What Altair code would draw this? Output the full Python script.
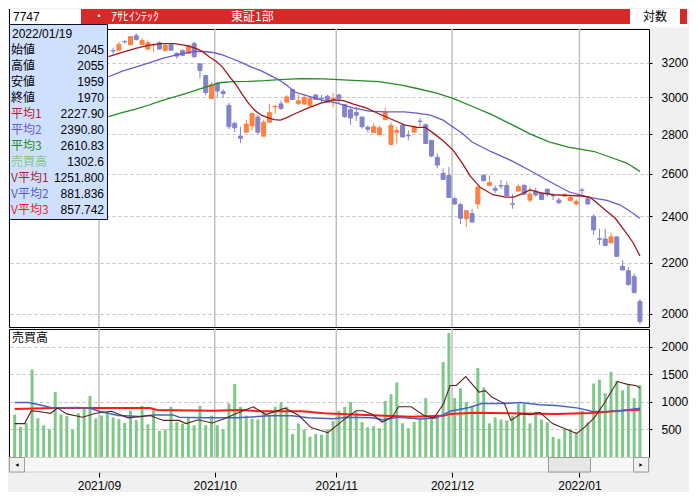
import altair as alt
import pandas as pd
import numpy as np

# ---------------- data ----------------
FIRST = 17  # first candle index visible (earlier ones are hidden behind the info box)
opens = [3275, 3277, 3331, 3310, 3367, 3313, 3284, 3309, 3323, 3274,
         3310, 3257, 3274, 3257, 3318, 3194, 3125, 2993, 3080, 3032,
         2955, 2857, 2789, 2810, 2843, 2891, 2789, 2863, 2947, 2963,
         2973, 3043, 2966, 2963, 2955, 3013, 2995, 3006, 2981, 3013,
         2959, 2931, 2915, 2891, 2836, 2808, 2798, 2877, 2746, 2810,
         2846, 2793, 2810, 2869, 2849, 2767, 2681, 2601, 2591, 2480,
         2453, 2389, 2412, 2456, 2591, 2543, 2529, 2542, 2543, 2457,
         2516, 2543, 2474, 2516, 2507, 2525, 2496, 2474, 2492, 2471,
         2456, 2521, 2480, 2400, 2301, 2300, 2283, 2309, 2185, 2167,
         2143, 2045]
highs = [3292, 3330, 3340, 3362, 3383, 3353, 3337, 3318, 3332, 3318,
         3312, 3265, 3284, 3310, 3331, 3196, 3129, 3088, 3088, 3046,
         2970, 2866, 2839, 2877, 2916, 2901, 2877, 2963, 2959, 2981,
         3013, 3045, 3017, 3013, 3002, 3017, 3013, 3013, 3024, 3020,
         2960, 2942, 2949, 2892, 2846, 2857, 2846, 2944, 2863, 2839,
         2853, 2820, 2849, 2886, 2857, 2768, 2701, 2626, 2633, 2490,
         2461, 2427, 2434, 2543, 2598, 2591, 2543, 2569, 2561, 2502,
         2548, 2548, 2535, 2532, 2513, 2529, 2502, 2483, 2502, 2498,
         2477, 2532, 2492, 2409, 2345, 2345, 2326, 2310, 2210, 2182,
         2154, 2055]
lows = [3252, 3277, 3317, 3310, 3337, 3309, 3277, 3265, 3280, 3274,
        3277, 3225, 3241, 3257, 3229, 3109, 3011, 2993, 2998, 2998,
        2826, 2810, 2754, 2810, 2818, 2801, 2789, 2863, 2908, 2931,
        2973, 2988, 2955, 2959, 2949, 2988, 2970, 2973, 2943, 2966,
        2886, 2849, 2870, 2828, 2808, 2808, 2798, 2877, 2741, 2751,
        2785, 2767, 2810, 2843, 2747, 2681, 2626, 2569, 2483, 2453,
        2365, 2352, 2374, 2434, 2561, 2538, 2508, 2525, 2495, 2434,
        2516, 2498, 2465, 2490, 2474, 2490, 2474, 2456, 2492, 2471,
        2450, 2492, 2456, 2317, 2275, 2272, 2283, 2226, 2170, 2106,
        2077, 1959]
closes = [3272, 3313, 3329, 3362, 3343, 3337, 3323, 3311, 3284, 3306,
          3277, 3241, 3246, 3306, 3237, 3155, 3027, 3072, 3036, 3021,
          2839, 2833, 2778, 2853, 2910, 2810, 2863, 2915, 2950, 2938,
          3002, 2988, 2980, 2998, 2995, 2988, 2992, 2973, 2995, 2993,
          2893, 2886, 2901, 2839, 2826, 2839, 2833, 2916, 2846, 2820,
          2785, 2791, 2839, 2867, 2751, 2687, 2642, 2572, 2486, 2456,
          2391, 2425, 2374, 2535, 2566, 2557, 2520, 2540, 2495, 2455,
          2538, 2502, 2502, 2498, 2477, 2502, 2494, 2462, 2502, 2486,
          2468, 2519, 2456, 2340, 2299, 2272, 2309, 2226, 2170, 2112,
          2080, 1970]

volumes = [769, 546, 616, 1585, 704, 575, 505, 1180, 769, 740,
           499, 792, 886, 1104, 699, 751, 810, 716, 687, 616,
           839, 669, 927, 593, 869, 475, 499, 910, 634, 605,
           722, 575, 927, 575, 751, 575, 505, 969, 1321, 910,
           751, 693, 681, 810, 751, 910, 992, 910, 417, 605,
           499, 370, 417, 405, 499, 652, 839, 910, 998, 810,
           634, 540, 558, 522, 1016, 1139, 1350, 610, 522, 634,
           687, 1068, 687, 740, 1720, 2248, 1068, 1244, 998, 910,
           1614, 1262, 610, 716, 681, 663, 751, 963, 963, 610,
           822, 681, 628, 364, 329, 505, 505, 434, 839, 628,
           1332, 1403, 1156, 1544, 1385, 1209, 1315, 1068, 1302.6]

month_labels = ["2021/09", "2021/10", "2021/11", "2021/12", "2022/01"]
month_start = [15, 35, 56, 76, 98]

ma1_i = [16.2, 18.7, 20.9, 23.2, 25.4, 27.6, 29.8, 31.5, 32.6, 33.7, 34.8, 35.9, 37.0, 38.2,
         39.3, 40.4, 41.5, 42.6, 43.7, 44.8, 45.9, 47.0, 48.4, 50.7, 52.9, 55.1, 56.8, 58.4,
         60.7, 62.9, 65.1, 67.3, 69.5, 70.9, 72.3, 74.0, 75.7, 77.3, 78.7, 80.4, 82.6, 84.8,
         86.2, 87.6, 89.0, 90.9, 93.2, 95.4, 98.0, 99.3, 100.4, 102.0, 103.7, 105.4, 106.8, 108.0]
ma1_v = [3238, 3265, 3289, 3309, 3318, 3318, 3305, 3285, 3265, 3234, 3210, 3175, 3123, 3073,
         3017, 2966, 2927, 2901, 2888, 2877, 2874, 2888, 2909, 2941, 2968, 2986, 2981, 2963,
         2941, 2909, 2879, 2849, 2836, 2836, 2805, 2765, 2718, 2652, 2588, 2534, 2499, 2488,
         2488, 2503, 2522, 2508, 2499, 2496, 2493, 2488, 2465, 2428, 2392, 2334, 2285, 2227.90]
ma2_i = [16.2, 18.7, 20.9, 23.2, 25.4, 27.6, 29.3, 30.9, 32.6, 34.3, 35.9, 37.6, 39.3, 40.9,
         42.6, 44.3, 45.9, 47.0, 48.4, 50.7, 53.4, 55.7, 58.4, 61.2, 64.0, 67.3, 69.5, 71.8,
         74.0, 75.7, 77.3, 79.0, 82.3, 85.7, 89.0, 92.3, 95.7, 99.0, 102.3, 104.6, 106.8, 108.0]
ma2_v = [3118, 3152, 3175, 3200, 3225, 3245, 3259, 3269, 3269, 3263, 3249, 3225, 3200, 3175,
         3152, 3123, 3095, 3068, 3030, 3006, 2981, 2968, 2941, 2923, 2919, 2919, 2912, 2901,
         2874, 2837, 2804, 2759, 2709, 2665, 2615, 2563, 2513, 2488, 2473, 2451, 2414, 2390.80]
ma3_i = [16.2, 18.7, 20.9, 23.2, 25.4, 27.6, 29.8, 32.0, 33.7, 35.4, 37.6, 40.4, 43.2, 45.7,
         49.5, 53.4, 58.4, 62.9, 66.8, 69.5, 72.9, 75.7, 79.0, 82.3, 85.7, 89.0, 92.3, 95.6,
         97.9, 100.1, 103.4, 105.7, 108.0]
ma3_v = [2893, 2916, 2934, 2957, 2981, 3002, 3024, 3048, 3065, 3083, 3090, 3091, 3095, 3101,
         3107, 3105, 3097, 3089, 3069, 3050, 3024, 2994, 2950, 2905, 2853, 2801, 2760, 2732,
         2721, 2710, 2676, 2652, 2610.83]

vma1_i = [0, 1.7, 2.9, 5.0, 6.2, 7.4, 9.0, 11.7, 14.0, 16.7, 19.6, 23.4, 25.7, 28.4, 29.6,
          31.7, 34.1, 36.2, 38.4, 41.2, 43.4, 46.7, 49.1, 51.2, 54.1, 57.4, 59.0, 60.2, 61.8,
          63.5, 65.2, 66.3, 68.5, 70.7, 72.4, 74.1, 75.2, 76.3, 77.9, 80.2, 81.3, 82.4, 84.6,
          85.7, 87.4, 89.1, 90.7, 92.9, 96.3, 97.1, 98.5, 100.2, 101.8, 104.1, 105.7, 107.4, 108.0]
vma1_v = [605, 605, 839, 810, 792, 886, 781, 722, 792, 828, 710, 751, 663, 663, 605,
          675, 616, 693, 792, 910, 769, 886, 751, 534, 440, 722, 839, 839, 769,
          634, 722, 910, 910, 751, 704, 969, 1297, 1297, 1456, 1174, 1203, 1086, 969,
          663, 781, 769, 810, 605, 458, 428, 546, 722, 969, 1368, 1321, 1291, 1251.8]
vma2_i = [0, 2.4, 5.0, 6.7, 10.7, 12.9, 14.6, 17.9, 21.7, 24.0, 27.4, 28.4, 32.9, 38.4, 44.0,
          47.9, 50.7, 55.1, 57.4, 61.8, 63.5, 66.3, 70.2, 72.9, 75.2, 78.5, 80.7, 84.1, 87.4,
          90.7, 93.5, 97.4, 99.6, 101.8, 104.6, 106.3, 108.0]
vma2_v = [986, 986, 927, 886, 898, 886, 828, 751, 734, 763, 763, 722, 710, 710, 746,
          746, 710, 693, 722, 710, 675, 722, 687, 710, 828, 898, 969, 969, 986,
          945, 933, 886, 828, 822, 839, 863, 881.836]
vma3_i = [0, 6.7, 23.4, 24.6, 34.1, 39.1, 42.4, 49.6, 53.4, 57.4, 61.8, 68.5, 74.1, 75.2,
          79.6, 93.5, 99.6, 103.5, 106.3, 108.0]
vma3_v = [869, 886, 886, 851, 839, 851, 828, 828, 792, 775, 757, 728, 746, 781,
          804, 781, 798, 828, 851, 857.742]

price_ticks = [2000, 2200, 2400, 2600, 2800, 3000, 3200]
vol_ticks = [500, 1000, 1500, 2000]

info_date = "2022/01/19"
info_labels = ["始値", "高値", "安値", "終値", "平均1", "平均2", "平均3", "売買高", "V平均1", "V平均2", "V平均3"]
info_values = ["2045", "2055", "1959", "1970", "2227.90", "2390.80", "2610.83", "1302.6", "1251.800", "881.836", "857.742"]
info_colors = ["#000000", "#000000", "#000000", "#000000", "#b22222", "#6a5acd", "#228b22",
               "#80c880", "#a52a2a", "#5a5ac8", "#ff1a1a"]

header_code = "7747"
header_name = "ｱｻﾋｲﾝﾃｯｸ"
header_market = "東証1部"
header_scale = "対数"
volume_title = "売買高"

# ---------------- layout / style ----------------
W, H_MAIN, H_VOL, H_HEAD = 640, 298, 128, 18
XDOM = [-0.12, 108.7]
LAT = "Liberation Sans"
JP = "Noto Sans CJK JP"
RED = "#d92828"
UP, DOWN = "#ff8040", "#8383c9"

grid_x = [s - 0.45 for s in month_start]
label_expr = "".join(f"datum.value < {g + 1} ? '{lab}' : " for g, lab in zip(grid_x, month_labels)) + "''"

xs = alt.Scale(domain=XDOM, nice=False, zero=False)
ys = alt.Scale(type="log", domain=[1950, 3410], nice=False)
vys = alt.Scale(domain=[0, 2320], nice=False, zero=True)

yaxis = alt.Axis(orient="right", values=price_ticks, format="d", grid=True, gridColor="#c0c0c0",
                 gridDash=[3, 3], gridWidth=1, tickSize=3, tickColor="black", domain=False,
                 labelPadding=9, title=None, labelFont=LAT, labelFontSize=12, labelColor="black")
vyaxis = alt.Axis(orient="right", values=vol_ticks, format="d", grid=True, gridColor="#c0c0c0",
                  gridDash=[3, 3], gridWidth=1, tickSize=3, tickColor="black", domain=False,
                  labelPadding=9, title=None, labelFont=LAT, labelFontSize=12, labelColor="black")
vxaxis = alt.Axis(values=grid_x, labelExpr=label_expr, offset=15, tickSize=5, tickColor="black",
                  domain=False, grid=False, labelPadding=3, title=None, labelFont=LAT,
                  labelFontSize=12, labelColor="black", labelFlush=False, labelOverlap=False)

one = pd.DataFrame({"k": [0]})
mdf = pd.DataFrame({"g": grid_x})

# ---------------- main panel ----------------
cdf = pd.DataFrame({"i": list(range(FIRST, FIRST + len(opens))), "o": opens, "h": highs,
                    "l": lows, "c": closes})
cdf["dir"] = np.where(cdf["c"] >= cdf["o"], "up", "down")
dir_scale = alt.Scale(domain=["up", "down"], range=[UP, DOWN])

grid_main = alt.Chart(mdf).mark_rule(color="#c0c0c0", strokeWidth=1.5).encode(
    x=alt.X("g:Q", scale=xs, axis=None))

wick = alt.Chart(cdf).mark_rule(strokeWidth=1, clip=True).encode(
    x=alt.X("i:Q", scale=xs, axis=None),
    y=alt.Y("l:Q", scale=ys, axis=yaxis), y2="h:Q",
    color=alt.Color("dir:N", scale=dir_scale, legend=None))
body = alt.Chart(cdf).mark_bar(size=4, strokeWidth=1, clip=True).encode(
    x=alt.X("i:Q", scale=xs, axis=None),
    y=alt.Y("o:Q", scale=ys, axis=yaxis), y2="c:Q",
    fill=alt.Fill("dir:N", scale=dir_scale, legend=None),
    stroke=alt.Stroke("dir:N", scale=dir_scale, legend=None))


def line_layer(idx, vals, color, width, scale, axis, xaxis=None):
    df = pd.DataFrame({"i": idx, "v": vals})
    return alt.Chart(df).mark_line(color=color, strokeWidth=width, clip=True).encode(
        x=alt.X("i:Q", scale=xs, axis=xaxis), y=alt.Y("v:Q", scale=scale, axis=axis))


ma3 = line_layer(ma3_i, ma3_v, "#228b22", 1.3, ys, yaxis)
ma2 = line_layer(ma2_i, ma2_v, "#6a5acd", 1.3, ys, yaxis)
ma1 = line_layer(ma1_i, ma1_v, "#a01818", 1.3, ys, yaxis)

price_layer = alt.layer(grid_main, wick, body, ma3, ma2, ma1)

info_df = pd.DataFrame({"row": list(range(1, 12)), "lab": info_labels, "val": info_values,
                        "col": info_colors})
rowscale = alt.Scale(domain=[0, 11], range=[5, 181])
box = alt.Chart(one).mark_rect(fill="#cfe0ff", stroke="#101028", strokeWidth=1).encode(
    x=alt.value(0.5), x2=alt.value(98.5), y=alt.value(-4.5), y2=alt.value(190.5))
date_txt = alt.Chart(one).mark_text(align="left", baseline="middle", font=LAT, fontSize=12,
                                    color="black").encode(
    x=alt.value(3), y=alt.value(5), text=alt.value(info_date))
lab_txt = alt.Chart(info_df).mark_text(align="left", baseline="middle", font=JP, fontSize=12).encode(
    x=alt.value(2), y=alt.Y("row:Q", scale=rowscale, axis=None), text="lab:N",
    color=alt.Color("col:N", scale=None))
val_txt = alt.Chart(info_df).mark_text(align="right", baseline="middle", font=LAT, fontSize=12,
                                       color="black").encode(
    x=alt.value(95), y=alt.Y("row:Q", scale=rowscale, axis=None), text="val:N")
info_layer = alt.layer(box, date_txt, lab_txt, val_txt)

main = alt.layer(price_layer, info_layer).resolve_scale(y="independent").properties(
    width=W, height=H_MAIN)

# ---------------- volume panel ----------------
vdf = pd.DataFrame({"i": list(range(len(volumes))), "v": volumes})
grid_vol = alt.Chart(mdf).mark_rule(color="#c0c0c0", strokeWidth=1.5).encode(
    x=alt.X("g:Q", scale=xs, axis=vxaxis))
vbars = alt.Chart(vdf).mark_bar(size=3, color="#80c888", clip=True).encode(
    x=alt.X("i:Q", scale=xs, axis=vxaxis), y=alt.Y("v:Q", scale=vys, axis=vyaxis))
vma3 = line_layer(vma3_i, vma3_v, "#ff1a1a", 2, vys, vyaxis, vxaxis)
vma2 = line_layer(vma2_i, vma2_v, "#4a60c8", 1.5, vys, vyaxis, vxaxis)
vma1 = line_layer(vma1_i, vma1_v, "#5c2020", 1.1, vys, vyaxis, vxaxis)
vtitle = alt.Chart(one).mark_text(align="left", baseline="middle", font=JP, fontSize=12,
                                  color="black").encode(
    x=alt.value(3), y=alt.value(9), text=alt.value(volume_title))

SB0, SB1 = H_VOL + 0.5, H_VOL + 15
sb_track = alt.Chart(one).mark_rect(fill="#f7f7f7", stroke="#d0d0d0", strokeWidth=1).encode(
    x=alt.value(0), x2=alt.value(W), y=alt.value(SB0), y2=alt.value(SB1))
sb_left = alt.Chart(one).mark_rect(fill="#f0f0f0", stroke="#a0a0a0", strokeWidth=1).encode(
    x=alt.value(0.5), x2=alt.value(15.5), y=alt.value(SB0), y2=alt.value(SB1))
sb_right = alt.Chart(one).mark_rect(fill="#f0f0f0", stroke="#a0a0a0", strokeWidth=1).encode(
    x=alt.value(W - 15.5), x2=alt.value(W - 0.5), y=alt.value(SB0), y2=alt.value(SB1))
sb_thumb = alt.Chart(one).mark_rect(fill="#e6e6e6", stroke="#9a9a9a", strokeWidth=1).encode(
    x=alt.value(539.5), x2=alt.value(581.5), y=alt.value(SB0), y2=alt.value(SB1))
arr_l = alt.Chart(one).mark_point(shape="triangle-left", filled=True, size=14, color="black",
                                  opacity=1).encode(x=alt.value(8), y=alt.value(H_VOL + 8))
arr_r = alt.Chart(one).mark_point(shape="triangle-right", filled=True, size=14, color="black",
                                  opacity=1).encode(x=alt.value(W - 8), y=alt.value(H_VOL + 8))

vol = alt.layer(grid_vol, vbars, vma3, vma2, vma1, vtitle,
                sb_track, sb_left, sb_right, sb_thumb, arr_l, arr_r).properties(
    width=W, height=H_VOL)

# ---------------- header ----------------
HB = 15
h_white = alt.Chart(one).mark_rect(fill="white").encode(
    x=alt.value(0), x2=alt.value(72), y=alt.value(0), y2=alt.value(HB))
h_edge = alt.Chart(one).mark_rule(color="black", strokeWidth=1).encode(
    x=alt.value(0.5), y=alt.value(0), y2=alt.value(HB))
h_red = alt.Chart(one).mark_rect(fill=RED).encode(
    x=alt.value(72), x2=alt.value(621), y=alt.value(0), y2=alt.value(HB))
h_white2 = alt.Chart(one).mark_rect(fill="white").encode(
    x=alt.value(621), x2=alt.value(671), y=alt.value(0), y2=alt.value(HB))
h_red2 = alt.Chart(one).mark_rect(fill=RED).encode(
    x=alt.value(671), x2=alt.value(678), y=alt.value(0), y2=alt.value(HB))
t_code = alt.Chart(one).mark_text(align="left", baseline="middle", font=LAT,
                                  fontSize=12, color="black").encode(
    x=alt.value(4), y=alt.value(8), text=alt.value(header_code))
t_dot = alt.Chart(one).mark_text(align="center", baseline="middle", font=JP, fontSize=12,
                                 color="white").encode(
    x=alt.value(90), y=alt.value(8), text=alt.value("・"))
t_name = alt.Chart(one).mark_text(align="left", baseline="middle", font=JP, fontSize=12,
                                  color="white").encode(
    x=alt.value(102), y=alt.value(8), text=alt.value(header_name))
t_mkt = alt.Chart(one).mark_text(align="left", baseline="middle", font=JP, fontSize=12,
                                 color="white").encode(
    x=alt.value(222), y=alt.value(8), text=alt.value(header_market))
t_log = alt.Chart(one).mark_text(align="center", baseline="middle", font=JP, fontSize=12,
                                 color="black").encode(
    x=alt.value(646), y=alt.value(8), text=alt.value(header_scale))

head = alt.layer(h_white, h_edge, h_red, h_white2, h_red2, t_code, t_dot, t_name, t_mkt,
                 t_log).properties(width=678, height=H_HEAD,
                                   view=alt.ViewBackground(fill="white", stroke="transparent"))

chart = alt.vconcat(head, main, vol, spacing=2, bounds="flush").resolve_scale(
    x="independent", y="independent").properties(
    padding=0, background="#f0f0f0").configure_view(fill="white", stroke="black", strokeWidth=1)

chart.save("out.html", embed_options={"renderer": "svg", "actions": False})
